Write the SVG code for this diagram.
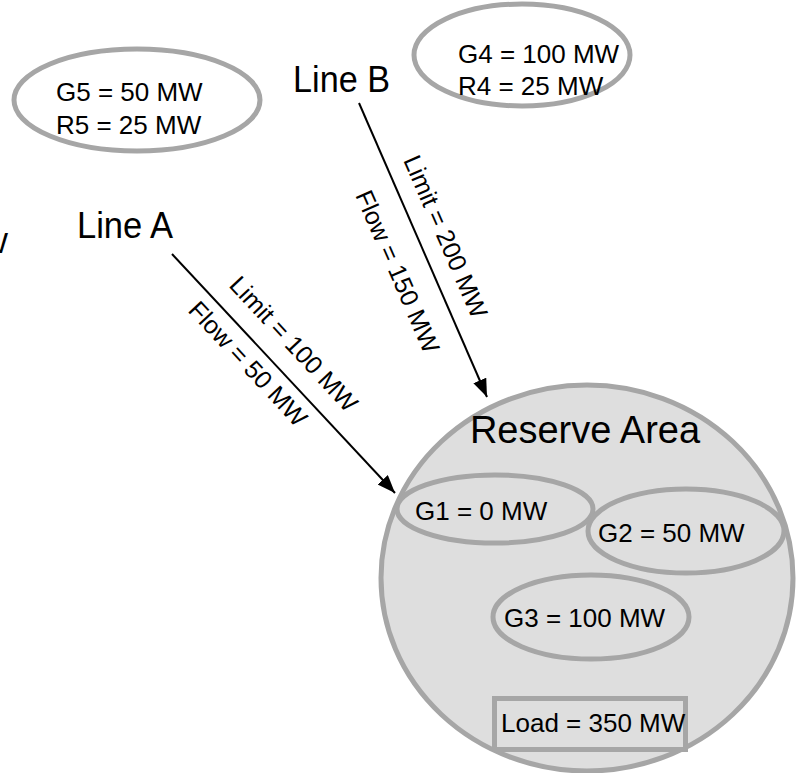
<svg xmlns="http://www.w3.org/2000/svg" width="796" height="773" viewBox="0 0 796 773">
  <style>
    .t { font-family: "Liberation Sans", Arial, sans-serif; fill: #000; }
    .lbl { font-size: 26px; }
    .edge-lbl { font-size: 25px; }
    .big { font-size: 36px; }
    .gen-out { fill: #ffffff; stroke: #a6a6a6; stroke-width: 5; }
    .gen-in { fill: #dedede; stroke: #a6a6a6; stroke-width: 5; }
    .wire { stroke: #000; stroke-width: 2; fill: none; marker-end: url(#head); }
  </style>
  <defs>
    <marker id="head" markerUnits="userSpaceOnUse" markerWidth="20" markerHeight="16" refX="18" refY="7" orient="auto">
      <path d="M0,0 L18,7 L0,14 Z" fill="#000"/>
    </marker>
  </defs>

  <rect width="796" height="773" fill="#ffffff"/>

  <!-- clipped label at the left edge -->
  <text class="t" x="8" y="253" font-size="30" text-anchor="end">W</text>

  <g id="g5">
    <ellipse class="gen-out" cx="137" cy="100" rx="123" ry="51"/>
    <text class="t lbl" x="56" y="101">G5 = 50 MW</text>
    <text class="t lbl" x="56" y="134">R5 = 25 MW</text>
  </g>

  <g id="g4">
    <ellipse class="gen-out" cx="522" cy="55" rx="108" ry="51"/>
    <text class="t lbl" x="458" y="63">G4 = 100 MW</text>
    <text class="t lbl" x="458" y="95">R4 = 25 MW</text>
  </g>

  <g id="line-a-label">
    <text class="t big" x="77" y="238" textLength="96" lengthAdjust="spacingAndGlyphs">Line A</text>
  </g>
  <g id="line-b-label">
    <text class="t big" x="293" y="92" textLength="97" lengthAdjust="spacingAndGlyphs">Line B</text>
  </g>

  <g id="reserve-area">
    <ellipse class="gen-in" cx="587" cy="578" rx="206" ry="193"/>
    <text class="t" x="585" y="443" font-size="38" text-anchor="middle">Reserve Area</text>
  </g>

  <g id="g1">
    <ellipse class="gen-in" cx="495" cy="509" rx="98" ry="34"/>
    <text class="t lbl" x="415" y="520">G1 = 0 MW</text>
  </g>
  <g id="g2">
    <ellipse class="gen-in" cx="686" cy="531" rx="98" ry="42"/>
    <text class="t lbl" x="598" y="542">G2 = 50 MW</text>
  </g>
  <g id="g3">
    <ellipse class="gen-in" cx="591" cy="617" rx="98" ry="42"/>
    <text class="t lbl" x="504" y="627">G3 = 100 MW</text>
  </g>
  <g id="load">
    <rect x="494.5" y="698.5" width="191" height="51" fill="#dedede" stroke="#a6a6a6" stroke-width="5"/>
    <text class="t lbl" x="501" y="732">Load = 350 MW</text>
  </g>

  <g id="connectors">
    <line class="wire" x1="172" y1="254" x2="395" y2="493"/>
    <line class="wire" x1="359" y1="103" x2="487" y2="397"/>
    <text class="t edge-lbl" transform="translate(228 286) rotate(47)">Limit = 100 MW</text>
    <text class="t edge-lbl" transform="translate(187 311) rotate(47)">Flow = 50 MW</text>
    <text class="t edge-lbl" transform="translate(403 160) rotate(66.5)">Limit = 200 MW</text>
    <text class="t edge-lbl" transform="translate(355 195) rotate(66.5)">Flow = 150 MW</text>
  </g>
</svg>
